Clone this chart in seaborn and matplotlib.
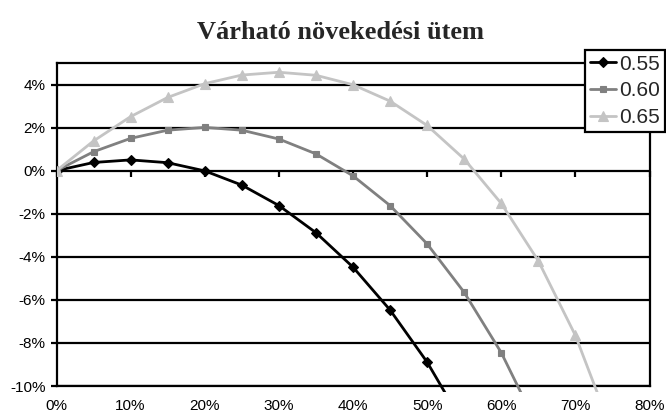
import matplotlib
matplotlib.use("Agg")
import matplotlib.pyplot as plt
from matplotlib.ticker import PercentFormatter
from matplotlib.patches import Rectangle
import pandas as pd
import seaborn as sns

# Expected growth rate (%) by bet fraction (%), one series per win probability
bet_fraction = [0, 5, 10, 15, 20, 25, 30, 35, 40, 45, 50, 55, 60, 65, 70, 75]
series_labels = ["0.55", "0.60", "0.65"]
growth_055 = [0.0, 0.38, 0.50, 0.37, -0.01, -0.67, -1.62, -2.88, -4.48, -6.47, -8.89, -11.83]
growth_060 = [0.0, 0.88, 1.50, 1.88, 2.01, 1.88, 1.47, 0.78, -0.24, -1.62, -3.40, -5.65,
              -8.45, -11.95]
growth_065 = [0.0, 1.38, 2.51, 3.40, 4.04, 4.44, 4.57, 4.43, 3.99, 3.23, 2.10, 0.54,
              -1.52, -4.19, -7.65, -12.15]
x_ticks = [0, 10, 20, 30, 40, 50, 60, 70, 80]
y_ticks = [-10, -8, -6, -4, -2, 0, 2, 4]
title = "Várható növekedési ütem"

rows = []
for label, vals in zip(series_labels, [growth_055, growth_060, growth_065]):
    for f, g in zip(bet_fraction, vals):
        rows.append({"f": f, "g": g, "p": label})
df = pd.DataFrame(rows)

sns.set_style("white")
plt.rcParams["font.family"] = ["Liberation Sans", "DejaVu Sans"]
plt.rcParams["axes.unicode_minus"] = False

colors = {"0.55": "#000000", "0.60": "#808080", "0.65": "#c4c4c4"}
markers = {"0.55": "D", "0.60": "s", "0.65": "^"}
msizes = {"0.55": 5.5, "0.60": 4.5, "0.65": 7.5}

fig = plt.figure(figsize=(6.66, 4.15), dpi=100)
fig.patch.set_facecolor("white")
ax = fig.add_axes([56.5 / 666, 1 - 386 / 415, (649.5 - 56.5) / 666, (386 - 63) / 415])

sns.lineplot(data=df, x="f", y="g", hue="p", style="p", hue_order=series_labels,
             style_order=series_labels, palette=colors, markers=markers, dashes=False,
             linewidth=2.0, sort=False, legend=False, ax=ax, zorder=3)

# lines may run slightly past the bottom of the plot area
clip = Rectangle((0, -0.02), 1, 1.02, transform=ax.transAxes, facecolor="none")
handles = []
for line, lab in zip(ax.lines, series_labels):
    line.set_markeredgecolor(colors[lab])
    line.set_markerfacecolor(colors[lab])
    line.set_markersize(msizes[lab])
    line.set_markeredgewidth(0.8)
    line.set_clip_path(clip)
    handles.append(line)

ax.set_xlim(0, 80)
ax.set_ylim(-10, 5)
ax.set_xticks(x_ticks)
ax.set_yticks(y_ticks)
ax.xaxis.set_major_formatter(PercentFormatter(xmax=100, decimals=0))
ax.yaxis.set_major_formatter(PercentFormatter(xmax=100, decimals=0))
ax.set_xlabel("")
ax.set_ylabel("")

for y in y_ticks:
    ax.axhline(y, color="black", linewidth=1.6, zorder=1)
for s in ax.spines.values():
    s.set_visible(True)
    s.set_color("black")
    s.set_linewidth(1.6)
    s.set_zorder(2)

ax.tick_params(axis="x", length=0, pad=9, labelsize=11, colors="black")
ax.tick_params(axis="y", left=True, direction="out", length=4, width=1.6, pad=4,
               labelsize=11, colors="black")

# x tick marks sit on the zero line
sec = ax.secondary_xaxis(10 / 15)
sec.set_alignment("bottom")
sec.set_xticks(x_ticks)
sec.tick_params(axis="x", direction="out", length=4, width=1.6, labelbottom=False,
                labeltop=False, colors="black")
for s in sec.spines.values():
    s.set_visible(False)

fig.text(340.5 / 666, 1 - 39 / 415, title, ha="center", va="baseline",
         fontsize=19, fontweight="bold", family=["Liberation Serif", "DejaVu Serif"])

leg = fig.legend(handles, series_labels, loc="upper left",
                 bbox_to_anchor=(585 / 666, 1 - 50 / 415), borderaxespad=0,
                 fontsize=15, frameon=True, fancybox=False, shadow=False,
                 handlelength=1.25, handletextpad=0.18, borderpad=0.22,
                 labelspacing=0.38)
leg.get_frame().set_edgecolor("black")
leg.get_frame().set_linewidth(1.6)
leg.get_frame().set_facecolor("white")
leg.get_frame().set_alpha(1)

fig.savefig("out.png", dpi=100, facecolor="white")
